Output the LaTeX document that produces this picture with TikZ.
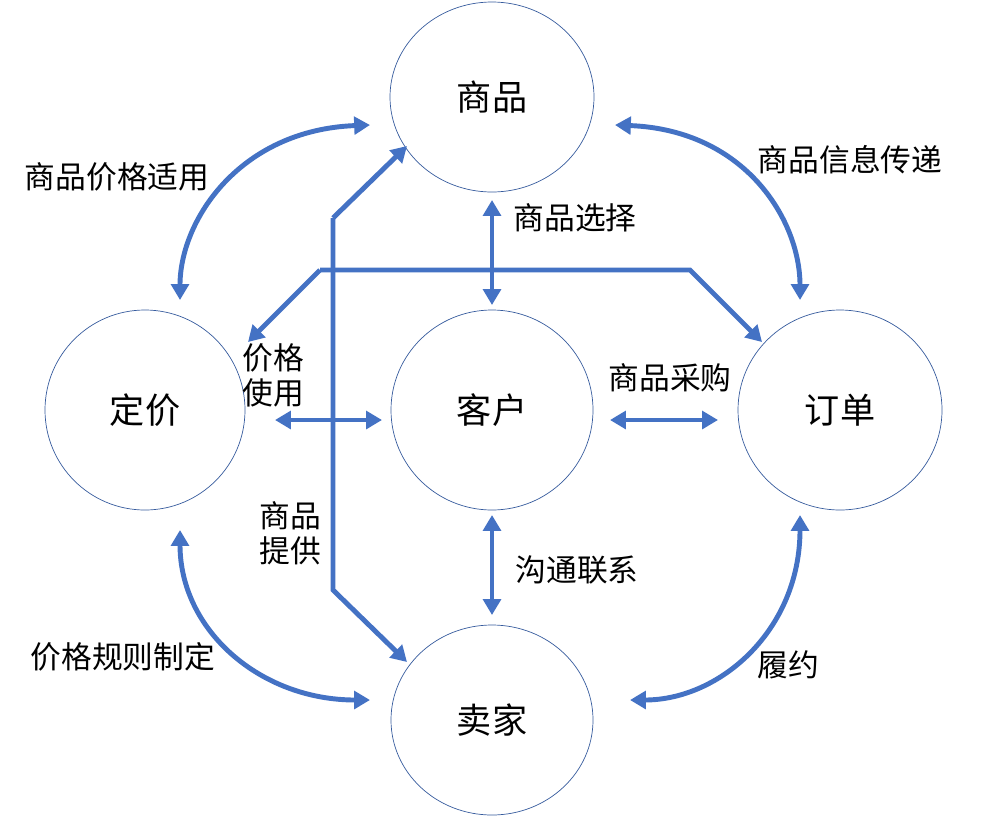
\documentclass[tikz,border=0pt]{standalone}
\usepackage{fontspec}
\setmainfont{Noto Sans CJK SC}
\usetikzlibrary{arrows.meta}
\definecolor{linkblue}{RGB}{68,114,196}
\begin{document}
\begin{tikzpicture}[x=0.02cm,y=-0.02cm,
  link/.style={linkblue,line width=2.8pt,-{Triangle[length=9pt,width=10pt]}},
  biLink/.style={linkblue,line width=2.8pt,{Triangle[length=9pt,width=10pt]}-{Triangle[length=9pt,width=10pt]}},
  lbl/.style={font=\fontsize{17.5}{20}\selectfont,align=left}]
\useasboundingbox (0,0) rectangle (1000,815);

% les entités
\draw[linkblue!80!black,thin] (492,97) ellipse [x radius=102,y radius=95];
\draw[linkblue!80!black,thin] (145,410) ellipse [x radius=100,y radius=100];
\draw[linkblue!80!black,thin] (492,410) ellipse [x radius=101,y radius=100];
\draw[linkblue!80!black,thin] (840,410) ellipse [x radius=102,y radius=100];
\draw[linkblue!80!black,thin] (492,720) ellipse [x radius=101,y radius=95];
\node[font=\fontsize{20}{24}\selectfont] (goods) at (492,97) {商品};
\node[font=\fontsize{20}{24}\selectfont] (pricing) at (145,410) {定价};
\node[font=\fontsize{20}{24}\selectfont] (customer) at (492,410) {客户};
\node[font=\fontsize{20}{24}\selectfont] (order) at (840,410) {订单};
\node[font=\fontsize{20}{24}\selectfont] (seller) at (492,720) {卖家};

% les liens courbes
\coordinate (gp1) at (370,125); \coordinate (gp2) at (180,300);
\coordinate (go1) at (615,125); \coordinate (go2) at (800,300);
\coordinate (ps1) at (180,530); \coordinate (ps2) at (370,700);
\coordinate (os1) at (800,515); \coordinate (os2) at (630,700);
\draw[biLink] (gp1) .. controls (240,130) and (180,220) .. (gp2);
\draw[biLink] (go1) .. controls (745,130) and (800,220) .. (go2);
\draw[biLink] (ps1) .. controls (180,630) and (260,700) .. (ps2);
\draw[biLink] (os1) .. controls (800,630) and (720,700) .. (os2);

% les liens droits
\coordinate (gc1) at (492,200); \coordinate (gc2) at (492,305);
\coordinate (cs1) at (492,515); \coordinate (cs2) at (492,615);
\coordinate (pc1) at (275,420); \coordinate (pc2) at (382,420);
\coordinate (co1) at (610,420); \coordinate (co2) at (718,420);
\draw[biLink] (gc1) -- (gc2);
\draw[biLink] (cs1) -- (cs2);
\draw[biLink] (pc1) -- (pc2);
\draw[biLink] (co1) -- (co2);

% les lignes brisées
\coordinate (v1) at (333,218); \coordinate (v2) at (333,590);
\coordinate (vg) at (407,146); \coordinate (vs) at (407,662);
\coordinate (h1) at (320,270); \coordinate (h2) at (690,270);
\coordinate (ho) at (762,342); \coordinate (hp) at (248,342);
\draw[link] (v1) -- (vg);
\draw[link] (v1) -- (v2) -- (vs);
\draw[link] (h1) -- (h2) -- (ho);
\draw[link] (h1) -- (hp);

% les étiquettes
\node[lbl] (l1) at (117,177) {商品价格适用};
\node[lbl] (l2) at (850,160) {商品信息传递};
\node[lbl] (l3) at (575,218) {商品选择};
\node[lbl] (l4) at (273,375) {价格\\使用};
\node[lbl] (l5) at (670,378) {商品采购};
\node[lbl] (l6) at (290,533) {商品\\提供};
\node[lbl] (l7) at (577,570) {沟通联系};
\node[lbl] (l8) at (123,657) {价格规则制定};
\node[lbl] (l9) at (788,665) {履约};
\end{tikzpicture}
\end{document}
